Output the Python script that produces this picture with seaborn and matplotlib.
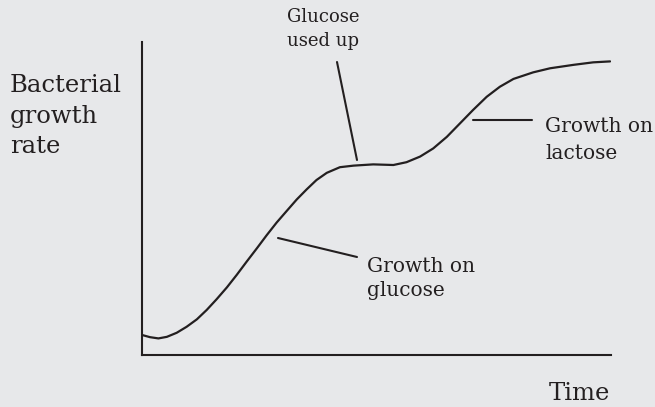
import matplotlib
matplotlib.use("Agg")
import matplotlib.pyplot as plt
import seaborn as sns
import pandas as pd

# Diauxic growth: time vs bacterial growth rate, arbitrary units
time = [0.00, 0.17, 0.35, 0.53, 0.74, 0.95, 1.17, 1.38, 1.59, 1.81, 2.02, 2.23,
        2.45, 2.66, 2.87, 3.09, 3.30, 3.51, 3.72, 3.94, 4.22, 4.51, 4.93, 5.36,
        5.64, 5.93, 6.21, 6.50, 6.78, 7.06, 7.35, 7.63, 7.92, 8.34, 8.70, 9.20,
        9.62, 9.98]
growth_rate = [0.64, 0.57, 0.53, 0.58, 0.71, 0.90, 1.14, 1.44, 1.78, 2.16, 2.56, 2.98,
               3.41, 3.83, 4.23, 4.61, 4.97, 5.29, 5.59, 5.82, 6.00, 6.05, 6.09, 6.07,
               6.16, 6.34, 6.60, 6.97, 7.40, 7.83, 8.25, 8.57, 8.82, 9.03, 9.16, 9.27,
               9.35, 9.38]

y_label_lines = ["Bacterial", "growth", "rate"]
x_label = "Time"

BG = "#e7e8ea"
INK = "#231f20"

sns.set_theme(style="white")
plt.rcParams["font.family"] = ["DejaVu Serif"]

W, H = 655, 407
fig = plt.figure(figsize=(W / 100, H / 100), dpi=100, facecolor=BG)

# axes box in pixels: left 142, right 611, top 42, bottom 355
ax = fig.add_axes([142 / W, 1 - 355 / H, (611 - 142) / W, (355 - 42) / H])
ax.set_facecolor(BG)

df = pd.DataFrame({"time": time, "rate": growth_rate})
sns.lineplot(data=df, x="time", y="rate", sort=False, estimator=None,
             color=INK, linewidth=1.6, ax=ax)
ax.lines[-1].set_solid_joinstyle("round")
ax.lines[-1].set_solid_capstyle("round")

ax.set_xlim(0, 10)
ax.set_ylim(0, 10)
ax.set_xticks([])
ax.set_yticks([])
ax.set_xlabel("")
ax.set_ylabel("")
for side in ("top", "right"):
    ax.spines[side].set_visible(False)
for side in ("left", "bottom"):
    ax.spines[side].set_color(INK)
    ax.spines[side].set_linewidth(1.5)


def px(x, y):
    """pixel position -> figure fraction"""
    return x / W, 1 - y / H


# leader lines from labels to the curve (pixel endpoints)
leaders = [((337, 62), (357, 160)),
           ((278, 238), (357, 257)),
           ((473, 120.5), (532, 120.5))]
for (x0, y0), (x1, y1) in leaders:
    a, b = px(x0, y0)
    c, d = px(x1, y1)
    fig.add_artist(plt.Line2D([a, c], [b, d], color=INK, linewidth=1.5,
                              transform=fig.transFigure))

# axis labels
for txt, base in zip(y_label_lines, [92, 123, 153]):
    fig.text(*px(10, base), txt, fontsize=17.5, color=INK, va="baseline", ha="left")
fig.text(*px(610, 400), x_label, fontsize=17.5, color=INK, va="baseline", ha="right")

# annotations
for txt, base in zip(["Glucose", "used up"], [22.5, 46.5]):
    fig.text(*px(287, base), txt, fontsize=13, color=INK, va="baseline", ha="left")
for txt, base in zip(["Growth on", "glucose"], [272, 296]):
    fig.text(*px(367, base), txt, fontsize=14.5, color=INK, va="baseline", ha="left")
for txt, base in zip(["Growth on", "lactose"], [132, 159]):
    fig.text(*px(545, base), txt, fontsize=14.5, color=INK, va="baseline", ha="left")

fig.savefig("out.png", dpi=100, facecolor=BG)
